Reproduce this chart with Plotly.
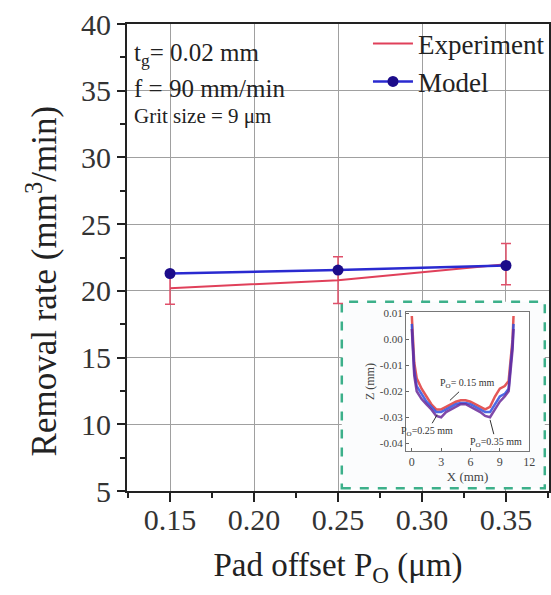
import plotly.graph_objects as go

# ---- main data ----
pad_offset = [0.15, 0.25, 0.35]
exp_rate = [20.2, 20.8, 22.0]
exp_err = [1.2, 1.75, 1.55]
model_rate = [21.3, 21.56, 21.9]

# ---- inset profile data ----
x_prof = [0.0, 0.1, 0.25, 0.5, 1.0, 1.5, 2.0, 2.5, 3.0, 3.5, 4.0, 4.5, 5.0, 5.5,
          6.0, 6.5, 7.0, 7.5, 8.0, 8.5, 9.0, 9.5, 9.9, 10.1, 10.3, 10.4]
z_015 = [0.009, 0.0, -0.009, -0.015, -0.019, -0.022, -0.025, -0.027, -0.027, -0.026,
         -0.025, -0.024, -0.0235, -0.0235, -0.024, -0.025, -0.026, -0.027, -0.026,
         -0.022, -0.019, -0.018, -0.016, -0.008, 0.0, 0.009]
z_025 = [0.006, -0.003, -0.012, -0.018, -0.021, -0.024, -0.026, -0.028, -0.028, -0.027,
         -0.026, -0.025, -0.0245, -0.0245, -0.025, -0.026, -0.027, -0.028, -0.028,
         -0.025, -0.022, -0.021, -0.019, -0.010, -0.002, 0.006]
z_035 = [0.004, -0.005, -0.014, -0.020, -0.023, -0.025, -0.027, -0.0295, -0.030, -0.028,
         -0.027, -0.026, -0.025, -0.025, -0.026, -0.027, -0.028, -0.0295, -0.030,
         -0.027, -0.024, -0.022, -0.020, -0.012, -0.004, 0.004]

y_ticks = [5, 10, 15, 20, 25, 30, 35, 40]
x_ticks = [0.15, 0.20, 0.25, 0.30, 0.35]
x_ticktext = ["0.15", "0.20", "0.25", "0.30", "0.35"]
inset_yticks = [0.01, 0.0, -0.01, -0.02, -0.03, -0.04]
inset_yticktext = ["0.01", "0.00", "-0.01", "-0.02", "-0.03", "-0.04"]
inset_xticks = [0, 3, 6, 9, 12]

FONT = "Liberation Serif"
X_RANGE = [0.1244, 0.3756]
Y_RANGE = [5, 40]

fig = go.Figure()

fig.add_trace(go.Scatter(
    x=pad_offset, y=exp_rate, mode="lines", name="Experiment",
    line=dict(color="#e0405a", width=2),
    error_y=dict(type="data", array=exp_err, visible=True, color="#e0506a",
                 thickness=1.5, width=5),
))
fig.add_trace(go.Scatter(
    x=pad_offset, y=model_rate, mode="lines+markers", name="Model",
    line=dict(color="#2a2ad0", width=2.5),
    marker=dict(color="#1c0c8a", size=11),
))

# inset profiles
for z, col in [(z_015, "#e03a3a"), (z_025, "#3050e0"), (z_035, "#6a2a9a")]:
    fig.add_trace(go.Scatter(
        x=x_prof, y=z, mode="lines", xaxis="x2", yaxis="y2", showlegend=False,
        line=dict(color=col, width=2.5), opacity=0.85,
    ))

# inset frame box expressed as fractions of the main plot area
bx = [0.509, 0.990]
by = [0.006, 0.405]
def fx(f):
    return X_RANGE[0] + f * (X_RANGE[1] - X_RANGE[0])
def fy(f):
    return Y_RANGE[0] + f * (Y_RANGE[1] - Y_RANGE[0])

fig.update_layout(
    width=551, height=595,
    margin=dict(l=127, r=2, t=24, b=104, autoexpand=False),
    paper_bgcolor="white", plot_bgcolor="white",
    font=dict(family=FONT, color="#222"),
    showlegend=True,
    legend=dict(x=0.571, y=1.01, xanchor="left", yanchor="top",
                font=dict(size=27, family=FONT, color="#222"),
                bgcolor="rgba(0,0,0,0)", tracegroupgap=0, itemwidth=40),
    xaxis=dict(
        range=X_RANGE, tickvals=x_ticks, ticktext=x_ticktext,
        tickfont=dict(size=30, family=FONT, color="#333"),
        ticks="outside", ticklen=9, tickwidth=1.5, tickcolor="#222",
        ticklabelstandoff=-8,
        minor=dict(ticks="outside", ticklen=5, dtick=0.05, tick0=0.175,
                   tickcolor="#222", showgrid=False),
        showline=True, linecolor="#222", linewidth=2, mirror=True,
        showgrid=True, gridcolor="#a0a0a0", gridwidth=1,
        zeroline=False, automargin=False,
        title=dict(text="Pad offset P<sub>O</sub> (μm)",
                   font=dict(size=33, family=FONT, color="#222"), standoff=18),
    ),
    yaxis=dict(
        range=Y_RANGE, tickvals=y_ticks,
        tickfont=dict(size=30, family=FONT, color="#333"),
        ticks="outside", ticklen=8, tickwidth=1.5, tickcolor="#222",
        minor=dict(ticks="outside", ticklen=5, dtick=5, tick0=7.5,
                   tickcolor="#222", showgrid=False),
        showline=True, linecolor="#222", linewidth=2, mirror=True,
        showgrid=True, gridcolor="#a0a0a0", gridwidth=1,
        zeroline=False, automargin=False,
    ),
    xaxis2=dict(
        domain=[0.661, 0.953], anchor="y2", range=[-0.6, 12.0],
        tickvals=inset_xticks, tickfont=dict(size=12, family=FONT, color="#444"),
        ticks="inside", ticklen=3, tickcolor="#666",
        showline=True, linecolor="#777", linewidth=1, mirror=True,
        showgrid=False, zeroline=False,
        title=dict(text="X (mm)", font=dict(size=13, family=FONT, color="#444"),
                   standoff=2),
    ),
    yaxis2=dict(
        domain=[0.0857, 0.383], anchor="x2", range=[-0.043, 0.0105],
        tickvals=inset_yticks, ticktext=inset_yticktext,
        tickfont=dict(size=11, family=FONT, color="#444"),
        ticks="inside", ticklen=3, tickcolor="#666",
        showline=True, linecolor="#777", linewidth=1, mirror=True,
        showgrid=False, zeroline=False,
        title=dict(text="Z (mm)", font=dict(size=12, family=FONT, color="#444"),
                   standoff=2),
    ),
    shapes=[dict(
        type="rect", xref="x", yref="y",
        x0=fx(bx[0]), x1=fx(bx[1]), y0=fy(by[0]), y1=fy(by[1]),
        line=dict(color="#3cb08a", width=2.5, dash="dash"),
        fillcolor="#fbfcfd", layer="between",
    )],
)

# y-axis title (placed as annotation to match the off-centre position)
fig.add_annotation(xref="paper", yref="paper", x=-0.2, y=0.45,
                   xanchor="center", yanchor="middle", textangle=-90, showarrow=False,
                   text="Removal rate (mm<sup>3</sup>/min)",
                   font=dict(size=35, family=FONT, color="#222"))

annots = [
    dict(text="t<sub>g</sub>= 0.02 mm", x=0.012, y=0.935, size=25),
    dict(text="f = 90 mm/min", x=0.012, y=0.862, size=25),
    dict(text="Grit size = 9 μm", x=0.012, y=0.803, size=21),
]
for a in annots:
    fig.add_annotation(xref="paper", yref="paper", x=a["x"], y=a["y"],
                       xanchor="left", yanchor="middle", showarrow=False,
                       text=a["text"], font=dict(size=a["size"], family=FONT, color="#222"))

# inset labels: text at (tx, ty), arrow pointing to the curve at (px, py)
inset_labels = [
    dict(text="P<sub>O</sub>= 0.15 mm", tx=5.7, ty=-0.0171, px=3.9, py=-0.0235),
    dict(text="P<sub>O</sub>=0.25 mm", tx=1.6, ty=-0.0354, px=2.6, py=-0.029),
    dict(text="P<sub>O</sub>=0.35 mm", tx=8.6, ty=-0.0396, px=8.0, py=-0.031),
]
for a in inset_labels:
    fig.add_annotation(xref="x2", yref="y2", axref="x2", ayref="y2",
                       x=a["px"], y=a["py"], ax=a["tx"], ay=a["ty"],
                       showarrow=True, arrowhead=0, arrowwidth=1, arrowcolor="#333",
                       standoff=0, startstandoff=0,
                       text=a["text"], font=dict(size=10, family=FONT, color="#333"))

fig.write_html("out.html")
